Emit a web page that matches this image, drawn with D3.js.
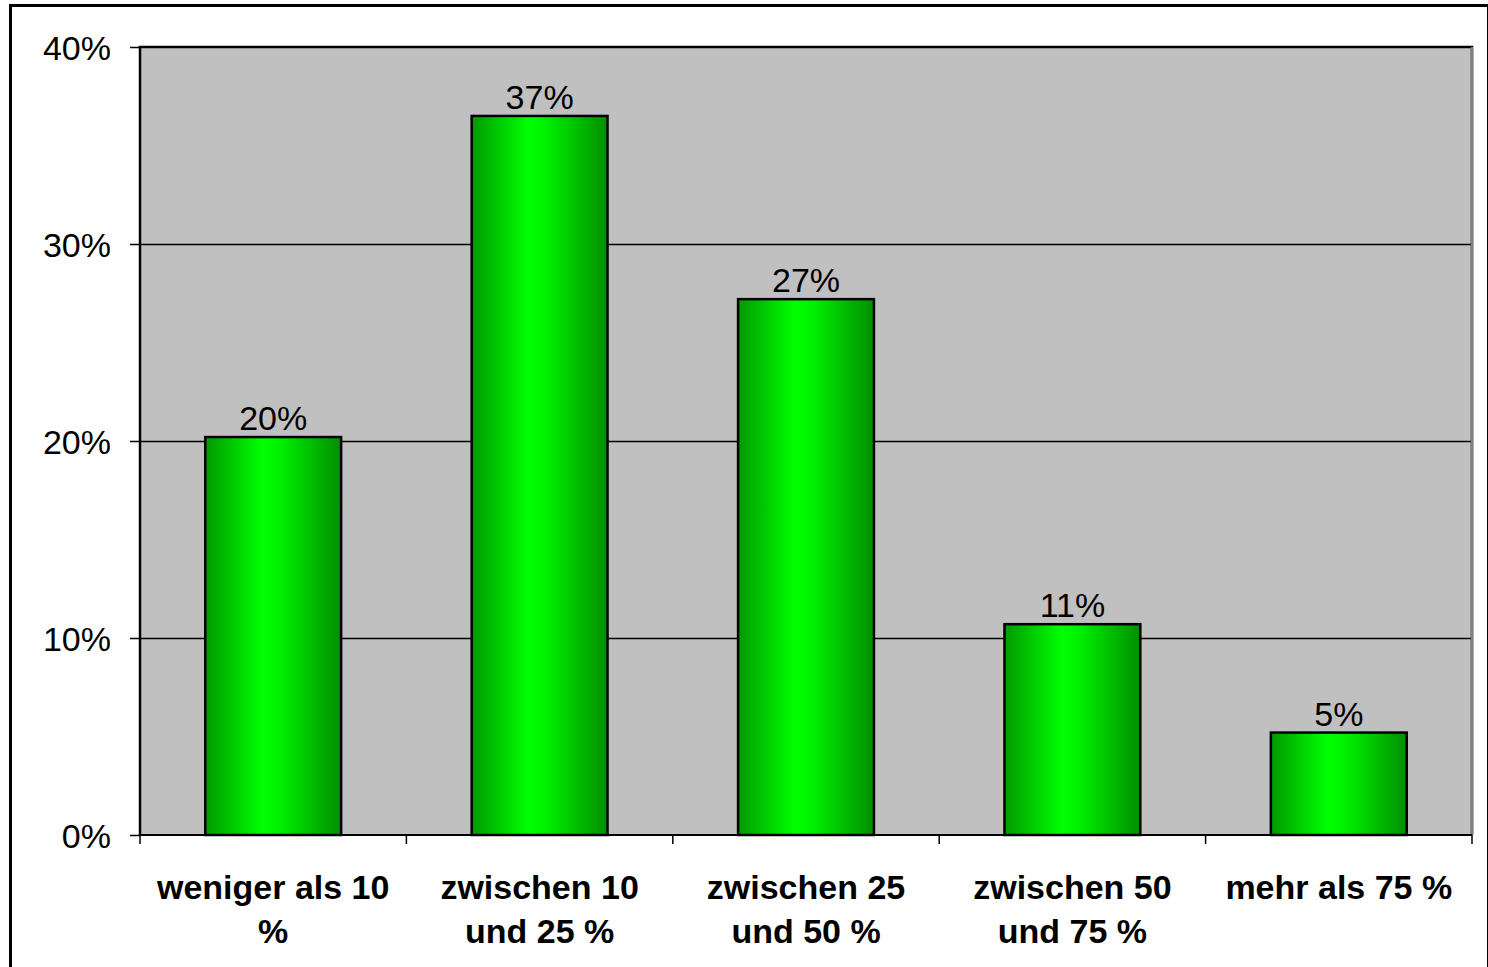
<!DOCTYPE html>
<html><head><meta charset="utf-8">
<script src="https://cdn.jsdelivr.net/npm/d3@7"></script>
<style>body{margin:0;background:#fff}svg{display:block}</style>
</head><body>
<script>
const categories = [["weniger als 10","%"],["zwischen 10","und 25 %"],["zwischen 25","und 50 %"],["zwischen 50","und 75 %"],["mehr als 75 %"]];
const values = [0.202, 0.365, 0.272, 0.107, 0.052];
const labels = ["20%","37%","27%","11%","5%"];
const yTicks = [0, 0.1, 0.2, 0.3, 0.4];

const W = 1488, H = 967;
const m = {left:140, top:47, right:1472, bottom:835};
const FONT = "Liberation Sans, Arial, sans-serif";
const svg = d3.select("body").append("svg").attr("width",W).attr("height",H);
const defs = svg.append("defs");
const g = defs.append("linearGradient").attr("id","gr").attr("x1","0").attr("x2","1").attr("y1","0").attr("y2","0");
g.append("stop").attr("offset","0").attr("stop-color","#009a00");
g.append("stop").attr("offset","0.42").attr("stop-color","#00ff00");
g.append("stop").attr("offset","0.55").attr("stop-color","#00f000");
g.append("stop").attr("offset","1").attr("stop-color","#008e00");

svg.append("rect").attr("x",10.5).attr("y",5.5).attr("width",W-10).attr("height",H-4).attr("fill","none").attr("stroke","#000").attr("stroke-width",3);

const x = d3.scaleBand().domain(d3.range(categories.length)).range([m.left,m.right]).paddingInner(0.49).paddingOuter(0.245);
const y = d3.scaleLinear().domain([0,0.4]).range([m.bottom,m.top]);

svg.append("rect").attr("x",m.left).attr("y",m.top).attr("width",m.right-m.left).attr("height",m.bottom-m.top).attr("fill","#c0c0c0");

// gridlines
svg.append("g").selectAll("line").data(yTicks.filter(d=>d>0 && d<0.4)).join("line")
  .attr("x1",m.left).attr("x2",m.right).attr("y1",d=>Math.round(y(d))+0.5).attr("y2",d=>Math.round(y(d))+0.5)
  .attr("stroke","#000").attr("stroke-width",1.5);

// plot border
svg.append("path").attr("d",`M${m.left},${m.bottom}V${m.top}H${m.right}V${m.bottom}`).attr("fill","none").attr("stroke","#000").attr("stroke-width",2.5);
svg.append("line").attr("x1",m.right).attr("x2",m.right).attr("y1",m.top).attr("y2",m.bottom).attr("stroke","#808080").attr("stroke-width",2.5);

// bars
svg.append("g").selectAll("rect").data(values).join("rect")
  .attr("x",(d,i)=>x(i)).attr("width",x.bandwidth()).attr("y",d=>y(d)).attr("height",d=>y(0)-y(d))
  .attr("fill","url(#gr)").attr("stroke","#000").attr("stroke-width",2.5);

// value labels
svg.append("g").selectAll("text").data(values).join("text")
  .attr("x",(d,i)=>x(i)+x.bandwidth()/2).attr("y",d=>y(d)-7)
  .attr("text-anchor","middle").attr("font-family",FONT).attr("font-size",34).attr("fill","#000")
  .text((d,i)=>labels[i]);

// y axis
const ya = svg.append("g").attr("transform",`translate(${m.left},0)`)
  .call(d3.axisLeft(y).tickValues(yTicks).tickFormat(d3.format(".0%")).tickSize(10).tickPadding(19));
ya.select(".domain").remove();
ya.selectAll(".tick line").attr("stroke","#000").attr("stroke-width",1.5);
ya.selectAll("text").attr("font-family",FONT).attr("font-size",34).attr("fill","#000").attr("dy","0.38em");

// x axis baseline + ticks
const xb = d3.scaleLinear().domain([0,categories.length]).range([m.left,m.right]);
svg.append("line").attr("x1",m.left).attr("x2",m.right).attr("y1",m.bottom).attr("y2",m.bottom).attr("stroke","#000").attr("stroke-width",2);
svg.append("g").selectAll("line").data(d3.range(categories.length+1)).join("line")
  .attr("x1",d=>xb(d)).attr("x2",d=>xb(d)).attr("y1",m.bottom).attr("y2",m.bottom+9).attr("stroke","#000").attr("stroke-width",1.5);

// category labels
const cl = svg.append("g").selectAll("text").data(categories).join("text")
  .attr("x",(d,i)=>xb(i+0.5)).attr("y",899)
  .attr("text-anchor","middle").attr("font-family",FONT).attr("font-size",34).attr("font-weight","bold").attr("fill","#000");
cl.selectAll("tspan").data(d=>d).join("tspan")
  .attr("x",function(){return this.parentNode.getAttribute("x");}).attr("dy",(d,i)=>i===0?0:44).text(d=>d);
</script>
</body></html>
